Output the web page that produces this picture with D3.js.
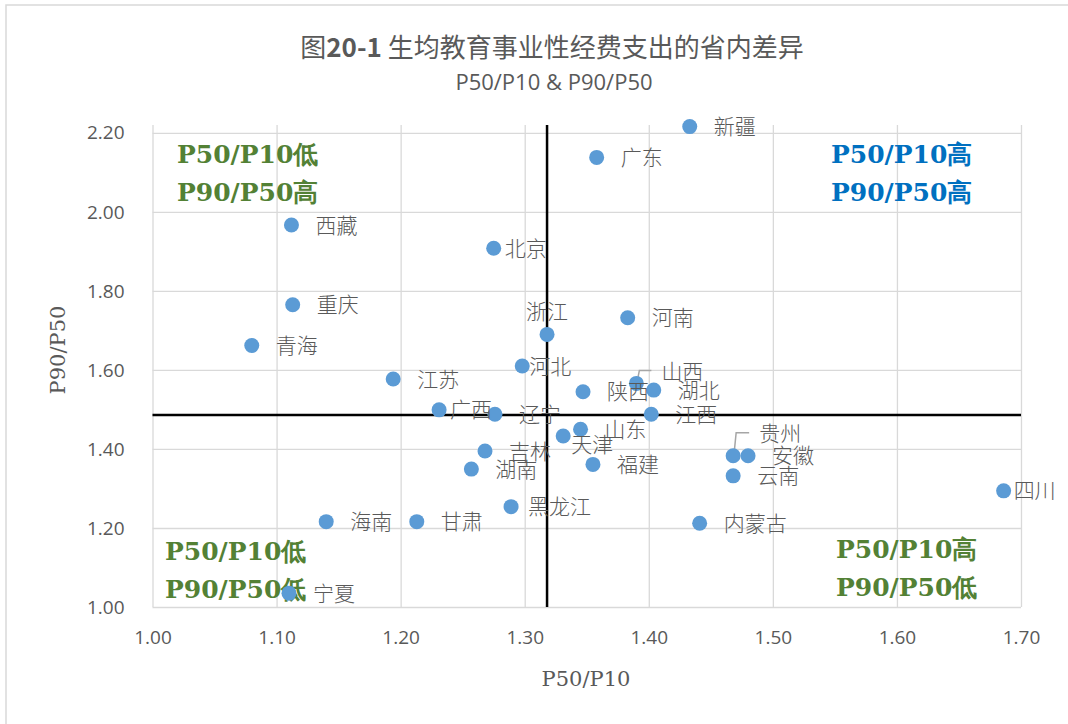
<!DOCTYPE html>
<html>
<head>
<meta charset="utf-8">
<script src="https://cdn.jsdelivr.net/npm/d3@7"></script>
<style>
  body { margin: 0; background: #fff; }
  .grid line { stroke: #d9d9d9; stroke-width: 1.3; }
  .grid text { fill: #595959; font-family: "Open Sans", sans-serif; font-size: 19px; }
  .lbl { fill: #595959; font-family: "Noto Sans CJK SC", sans-serif; font-size: 21px; font-weight: 300; }
</style>
</head>
<body>
<svg width="1068" height="724"></svg>
<script>
// data
var provinces = ['新疆','广东','西藏','北京','重庆','浙江','河南','青海','河北','江苏',
  '山西','陕西','湖北','广西','辽宁','江西','山东','天津','吉林','贵州',
  '安徽','湖南','福建','云南','四川','黑龙江','海南','甘肃','内蒙古','宁夏'];
var p50p10 = [1.433,1.358,1.112,1.275,1.113,1.318,1.383,1.080,1.298,1.194,
  1.390,1.347,1.404,1.231,1.276,1.402,1.345,1.331,1.268,1.468,
  1.480,1.257,1.355,1.468,1.686,1.289,1.140,1.213,1.441,1.110];
var p90p50 = [2.216,2.138,1.967,1.908,1.765,1.690,1.732,1.662,1.610,1.577,
  1.566,1.545,1.549,1.499,1.488,1.488,1.450,1.433,1.395,1.383,
  1.383,1.349,1.361,1.332,1.294,1.254,1.216,1.216,1.212,1.035];
var xTicks = [1.0,1.1,1.2,1.3,1.4,1.5,1.6,1.7];
var yTicks = [1.0,1.2,1.4,1.6,1.8,2.0,2.2];
var xCross = 1.318; // vertical reference line
var yCross = 1.486; // horizontal reference line

var quadrants = [
  {lines: ['P50/P10低','P90/P50高'], color: '#538135', x: 177, y: 163},
  {lines: ['P50/P10高','P90/P50高'], color: '#0070c0', x: 831, y: 163},
  {lines: ['P50/P10低','P90/P50低'], color: '#538135', x: 165, y: 560},
  {lines: ['P50/P10高','P90/P50低'], color: '#538135', x: 836, y: 558}
];

// label nudges (Excel moved some labels by hand)
var labelNudge = {
  '北京': [11,0], '广西': [11,0], '河北': [7,0], '天津': [8,9], '四川': [10,0],
  '黑龙江': [17,0], '浙江': [0,-23,'middle'], '山西': [25,-12], '贵州': [26,-22]
};
var leaders = ['山西','贵州'];

var width = 1068, height = 724;
var svg = d3.select('svg');

// outer chart border
svg.append('rect')
  .attr('x', 6).attr('y', 5)
  .attr('width', 1200).attr('height', 900)
  .attr('fill', 'none').attr('stroke', '#d9d9d9').attr('stroke-width', 1.5);

var scaleX = d3.scaleLinear().domain([1, 1.7]).range([152.5, 1021]);
var scaleY = d3.scaleLinear().domain([1, 2.22]).range([607, 125]);

var xAxis = d3.axisBottom(scaleX)
  .tickValues(xTicks)
  .tickFormat(d3.format('.2f'))
  .tickSize(-(607 - 125))
  .tickPadding(24);

var yAxis = d3.axisLeft(scaleY)
  .tickValues(yTicks)
  .tickFormat(d3.format('.2f'))
  .tickSize(-(1021 - 152.5))
  .tickPadding(28);

svg.append('g').attr('class', 'grid')
  .attr('transform', 'translate(0,607)')
  .call(xAxis)
  .call(g => g.select('.domain').remove());

svg.append('g').attr('class', 'grid')
  .attr('transform', 'translate(152.5,0)')
  .call(yAxis)
  .call(g => g.select('.domain').remove());

// crosshair
svg.append('line')
  .attr('x1', scaleX(xCross)).attr('x2', scaleX(xCross))
  .attr('y1', scaleY.range()[1]).attr('y2', scaleY.range()[0])
  .attr('stroke', '#000').attr('stroke-width', 2.5);
svg.append('line')
  .attr('x1', scaleX.range()[0]).attr('x2', scaleX.range()[1])
  .attr('y1', scaleY(yCross)).attr('y2', scaleY(yCross))
  .attr('stroke', '#000').attr('stroke-width', 2.5);

var pts = provinces.map((p, i) => ({name: p, x: p50p10[i], y: p90p50[i]}));

// quadrant captions
quadrants.forEach(q => {
  svg.append('text')
    .attr('x', q.x).attr('y', q.y)
    .style('font-family', '"DejaVu Serif", serif')
    .style('font-weight', 'bold')
    .style('font-size', '25px')
    .style('fill', q.color)
    .selectAll('tspan')
    .data(q.lines)
    .enter()
    .append('tspan')
      .attr('x', q.x)
      .attr('dy', (d, i) => i ? 38 : 0)
      .text(d => d);
});

// leader lines
svg.selectAll('.leader')
  .data(pts.filter(d => leaders.includes(d.name)))
  .enter()
  .append('path')
    .attr('fill', 'none')
    .attr('stroke', '#a6a6a6')
    .attr('stroke-width', 1.5)
    .attr('d', d => {
      var cx = scaleX(d.x), cy = scaleY(d.y), n = labelNudge[d.name];
      return 'M' + (cx + 1) + ',' + (cy - 3) + 'L' + (cx + 3) + ',' + (cy + n[1] - 1) +
        'L' + (cx + n[0] - 10) + ',' + (cy + n[1] - 1);
    });

// dots
svg.selectAll('circle')
  .data(pts)
  .enter()
  .append('circle')
    .attr('cx', d => scaleX(d.x))
    .attr('cy', d => scaleY(d.y))
    .attr('r', 7.5)
    .attr('fill', '#5b9bd5');

// labels
svg.selectAll('.lbl')
  .data(pts)
  .enter()
  .append('text')
    .attr('class', 'lbl')
    .attr('x', d => scaleX(d.x) + (labelNudge[d.name] ? labelNudge[d.name][0] : 24))
    .attr('y', d => scaleY(d.y) + (labelNudge[d.name] ? labelNudge[d.name][1] : 0))
    .attr('dy', '0.36em')
    .style('text-anchor', d => (labelNudge[d.name] && labelNudge[d.name][2]) || 'start')
    .text(d => d.name);

// title
var title = svg.append('text')
  .attr('x', 552).attr('y', 57)
  .style('text-anchor', 'middle')
  .style('font-family', '"Noto Sans CJK SC", sans-serif')
  .style('font-size', '26px')
  .style('fill', '#595959');
title.append('tspan').text('图');
title.append('tspan').style('font-weight', 'bold').text('20-1 ');
title.append('tspan').text('生均教育事业性经费支出的省内差异');

svg.append('text')
  .attr('x', 554).attr('y', 90)
  .style('text-anchor', 'middle')
  .style('font-family', '"Open Sans", sans-serif')
  .style('font-size', '22px')
  .style('fill', '#595959')
  .text('P50/P10 & P90/P50');

// axis titles
svg.append('text')
  .attr('x', 586).attr('y', 686)
  .style('text-anchor', 'middle')
  .style('font-family', '"DejaVu Serif", serif')
  .style('font-size', '21px')
  .style('fill', '#595959')
  .text('P50/P10');

svg.append('text')
  .attr('transform', 'rotate(-90)')
  .attr('x', -350).attr('y', 65)
  .style('text-anchor', 'middle')
  .style('font-family', '"DejaVu Serif", serif')
  .style('font-size', '21px')
  .style('fill', '#595959')
  .text('P90/P50');
</script>
</body>
</html>
